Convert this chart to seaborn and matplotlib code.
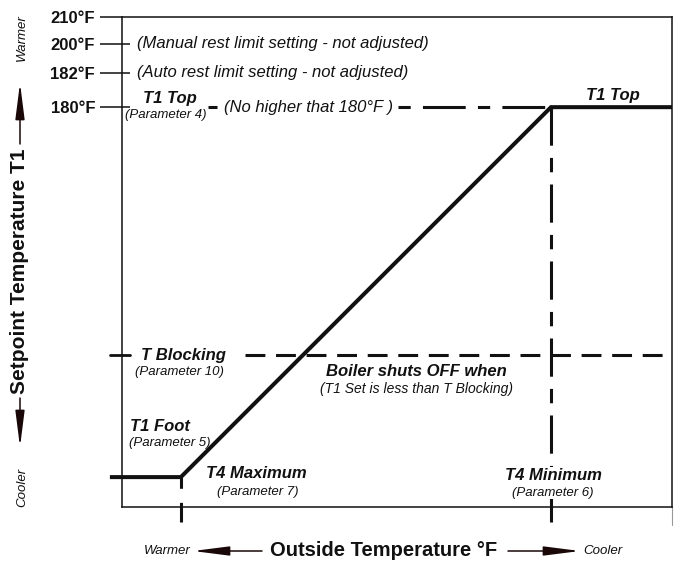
#import packages
import matplotlib
matplotlib.use("Agg")
import matplotlib.pyplot as plt
import seaborn as sns

#chart values (schematic units, box runs 0-100 on both axes)

tick_labels = ["210°F", "200°F", "182°F", "180°F"]
tick_pos = [100, 94.5, 88.6, 81.6]
t1_top = 81.6
t_block = 31.0
t1_foot = 6.1
t4_max = 10.7
t4_min = 78.0
curve_x = [-2.2, t4_max, t4_min, 100]
curve_y = [t1_foot, t1_foot, t1_top, t1_top]

#style

sns.set_style("white")
plt.rcParams["font.family"] = ["Liberation Sans", "DejaVu Sans"]
ink = "#111111"

fig = plt.figure(figsize=(6.8, 5.63), dpi=100)
ax = fig.add_axes([122 / 680, 56 / 563, 550 / 680, 490 / 563])

#heating curve

sns.lineplot(x=curve_x, y=curve_y, sort=False, color=ink, lw=2.9, ax=ax,
             clip_on=False, solid_joinstyle="miter", solid_capstyle="butt")

#dashed reference lines

long_short = (0, (4, 4, 14, 4))
ax.plot([50.2, t4_min], [t1_top, t1_top], color=ink, lw=2.2, ls=long_short)
ax.plot([15.6, 17.3], [t1_top, t1_top], color=ink, lw=2.2, solid_capstyle="butt")
ax.plot([22.4, 100], [t_block, t_block], color=ink, lw=2.2, ls=(0, (6.5, 3.5)))
ax.plot([-2.2, 1.5], [t_block, t_block], color=ink, lw=2.0, clip_on=False)
ax.plot([t4_min, t4_min], [t1_top, -3.1], color=ink, lw=2.2,
        ls=(0, (12.5, 4, 4.7, 4)), clip_on=False)
ax.plot([t4_max, t4_max], [t1_foot, -3.1], color=ink, lw=2.2,
        ls=(0, (3.7, 4.6, 7, 3)), clip_on=False)
ax.plot([100, 100], [0, -3.6], color="#999999", lw=0.8, clip_on=False)

#axes and ticks

ax.set_xlim(0, 100)
ax.set_ylim(0, 100)
ax.set_xticks([])
ax.set_yticks(tick_pos, tick_labels)
ax.tick_params(axis="y", direction="out", length=15.8, width=1.1, pad=3.6,
               labelsize=12, colors=ink, left=True)
for lbl in ax.get_yticklabels():
    lbl.set_fontweight("bold")
ax.hlines(tick_pos[1:], 0, 1.5, color=ink, lw=1.1)
for s in ax.spines.values():
    s.set_linewidth(1.1)
    s.set_color(ink)

#annotations inside the chart

def note(x, y, s, size=12, bold=False, ha="center", mask=False):
    t = ax.text(x, y, s, ha=ha, va="center", fontsize=size, style="italic",
                fontweight="bold" if bold else "normal", color=ink,
                clip_on=False, zorder=5)
    if mask:
        t.set_bbox(dict(facecolor="white", edgecolor="none", pad=0.5))

note(2.7, 94.5, "(Manual rest limit setting - not adjusted)", ha="left")
note(2.7, 88.6, "(Auto rest limit setting - not adjusted)", ha="left")
note(8.7, 83.3, "T1 Top", bold=True)
note(8.0, 80.0, "(Parameter 4)", size=9.5)
note(18.5, 81.6, "(No higher that 180°F )", ha="left")
note(89.3, 83.9, "T1 Top", bold=True)
note(11.1, 31.0, "T Blocking", bold=True)
note(10.4, 27.6, "(Parameter 10)", size=9.5)
note(53.6, 27.6, "Boiler shuts OFF when", bold=True)
note(53.6, 24.1, "(T1 Set is less than T Blocking)", size=10)
note(1.4, 16.5, "T1 Foot", bold=True, ha="left")
note(1.3, 13.1, "(Parameter 5)", size=9.5, ha="left")
note(24.5, 6.9, "T4 Maximum", bold=True)
note(24.7, 3.1, "(Parameter 7)", size=9.5)
note(78.4, 6.5, "T4 Minimum", bold=True, mask=True)
note(78.4, 2.9, "(Parameter 6)", size=9.5, mask=True)

#axis titles with direction arrows

def fx(px):
    return px / 680

def fy(py):
    return 1 - py / 563

arrow = dict(arrowstyle="-|>,head_length=2.2,head_width=0.28", color="#1a0808",
             lw=1.1, shrinkA=0, shrinkB=0, mutation_scale=10)

fig.text(fx(20), fy(271), "Setpoint Temperature T1", rotation=90, ha="center",
         va="center", fontsize=15, fontweight="bold", color=ink)
fig.text(fx(22), fy(38), "Warmer", rotation=90, ha="center", va="center",
         fontsize=9.5, style="italic", color=ink)
fig.text(fx(22), fy(487), "Cooler", rotation=90, ha="center", va="center",
         fontsize=9.5, style="italic", color=ink)
fig.add_artist(matplotlib.patches.FancyArrowPatch(
    (fx(20), fy(144)), (fx(20), fy(83)), transform=fig.transFigure, **arrow))
fig.add_artist(matplotlib.patches.FancyArrowPatch(
    (fx(20), fy(398)), (fx(20), fy(447)), transform=fig.transFigure, **arrow))

fig.text(fx(384), fy(551), "Outside Temperature °F", ha="center", va="center",
         fontsize=14.5, fontweight="bold", color=ink)
fig.text(fx(191), fy(551), "Warmer", ha="right", va="center", fontsize=9.5,
         style="italic", color=ink)
fig.text(fx(583), fy(551), "Cooler", ha="left", va="center", fontsize=9.5,
         style="italic", color=ink)
fig.add_artist(matplotlib.patches.FancyArrowPatch(
    (fx(262), fy(551)), (fx(193), fy(551)), transform=fig.transFigure, **arrow))
fig.add_artist(matplotlib.patches.FancyArrowPatch(
    (fx(508), fy(551)), (fx(580), fy(551)), transform=fig.transFigure, **arrow))

fig.savefig("out.png", dpi=100)
